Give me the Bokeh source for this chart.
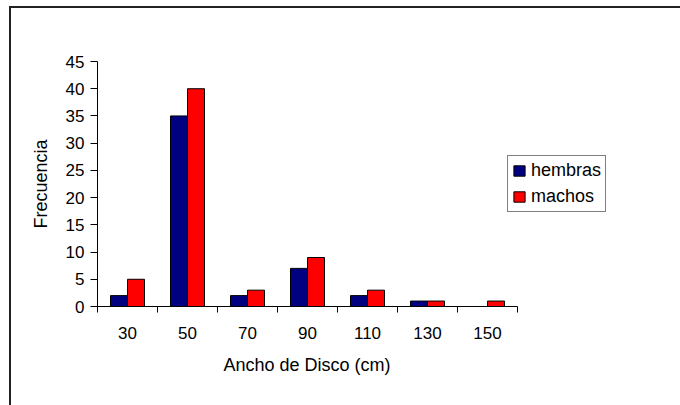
from bokeh.plotting import figure
from bokeh.layouts import column
from bokeh.models import (ColumnDataSource, Range1d, FixedTicker, Legend, LegendItem,
                          Title)
from bokeh.transform import dodge
from bokeh.embed import file_html
from bokeh.resources import INLINE

# Frequency of disc width classes by sex
classes = ["30", "50", "70", "90", "110", "130", "150"]
hembras = [2, 35, 2, 7, 2, 1, 0]
machos = [5, 40, 3, 9, 3, 1, 1]

y_ticks = [0, 5, 10, 15, 20, 25, 30, 35, 40, 45]

FONT = "Liberation Sans"

pos = [i + 0.5 for i in range(len(classes))]
src = ColumnDataSource(dict(x=pos, hembras=hembras, machos=machos))

# the chart sits inside a bordered box offset from the page corner
OX, OY, BW = 9, 6, 2
LEFT = 97 - OX - BW          # frame left edge inside the figure
TOP = 61 - OY - BW           # frame top edge inside the figure
CAT_PX = 60                  # pixels per class
FRAME_W = 543                # frame also hosts the legend to the right of the axis
W = 680 - OX - BW
H = 405 - OY - BW

p = figure(width=W, height=H, output_backend="svg", toolbar_location=None,
           x_range=Range1d(0, FRAME_W / CAT_PX), y_range=Range1d(0, 45),
           min_border_left=LEFT, min_border_right=W - LEFT - FRAME_W,
           min_border_top=TOP, min_border_bottom=H - TOP - 245)
p.outline_line_color = None
p.grid.grid_line_color = None
p.background_fill_color = "white"
p.border_fill_color = "white"

bar_w = 0.283
r_h = p.vbar(x=dodge("x", -0.142, range=p.x_range), top="hembras", width=bar_w,
             source=src, fill_color="#000080", line_color="black", line_width=1)
r_m = p.vbar(x=dodge("x", 0.142, range=p.x_range), top="machos", width=bar_w,
             source=src, fill_color="#FF0000", line_color="black", line_width=1)

# x axis: labels centred on each class, ticks on the class boundaries
xa = p.xaxis[0]
xa.bounds = (0, len(classes))
xa.ticker = FixedTicker(ticks=pos, minor_ticks=list(range(len(classes) + 1)))
xa.major_label_overrides = {x: c for x, c in zip(pos, classes)}
xa.major_tick_out = 0
xa.major_tick_in = 0
xa.minor_tick_out = 6
xa.minor_tick_in = 0
xa.minor_tick_line_color = "black"
xa.major_label_standoff = 14

ya = p.yaxis[0]
ya.ticker = FixedTicker(ticks=y_ticks)
ya.major_tick_out = 7
ya.major_tick_in = 0
ya.minor_tick_line_color = None
ya.major_label_standoff = 6
ya.axis_label = "Frecuencia"
ya.axis_label_standoff = 12
ya.axis_label_text_font = FONT
ya.axis_label_text_font_size = "18px"
ya.axis_label_text_font_style = "normal"
ya.axis_label_text_color = "black"

for ax in (xa, ya):
    ax.axis_line_color = "black"
    ax.major_tick_line_color = "black"
    ax.major_label_text_font = FONT
    ax.major_label_text_font_size = "17px"
    ax.major_label_text_color = "black"

# x axis title, centred under the axis line rather than the whole frame
x_title = Title(text="Ancho de Disco (cm)", align="left", offset=126,
                text_font=FONT, text_font_size="18px", text_font_style="normal",
                text_color="black", standoff=22)
p.add_layout(x_title, "below")

legend = Legend(items=[LegendItem(label="hembras", renderers=[r_h]),
                       LegendItem(label="machos", renderers=[r_m])],
                location=(410, 94), orientation="vertical",
                border_line_color="black", border_line_width=1,
                background_fill_color="white", background_fill_alpha=1,
                label_text_font=FONT, label_text_font_size="18px",
                label_text_color="black",
                glyph_width=14, glyph_height=13, label_standoff=5,
                label_height=16, spacing=5, padding=4, margin=0)
p.add_layout(legend, "center")

page = column(p, margin=(OY, 0, 0, OX),
              styles={"border-left": "2px solid #222222",
                      "border-top": "2px solid #222222"})

open("out.html", "w").write(file_html(page, INLINE))
